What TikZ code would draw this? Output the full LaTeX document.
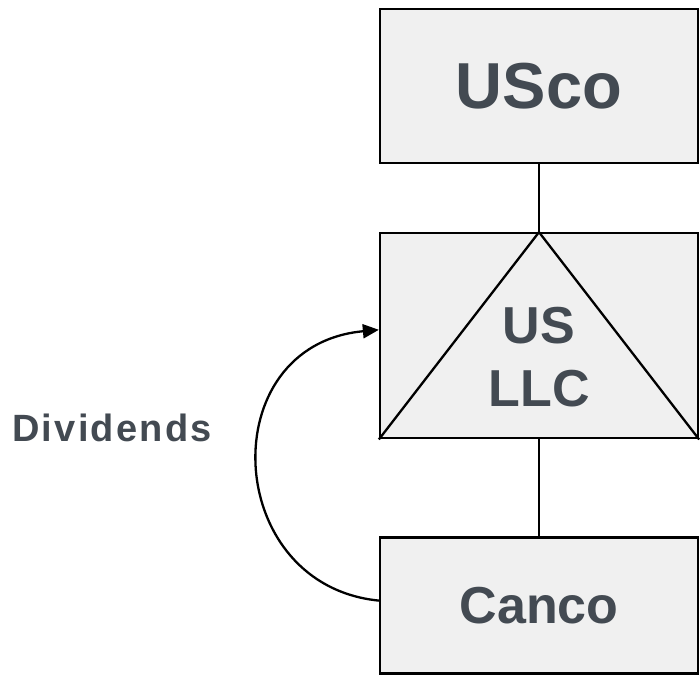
\documentclass[tikz,border=0pt]{standalone}
\usepackage{fontspec}
\setmainfont{Liberation Sans}
\newfontfamily\widefont[LetterSpace=6]{Liberation Sans}
\usetikzlibrary{arrows.meta, positioning}

\definecolor{boxfill}{HTML}{F0F0F0}
\definecolor{textgray}{HTML}{434A52}

\tikzset{
    entity/.style={draw, line width=2.3pt, fill=boxfill, minimum width=318pt,
        inner sep=0pt, text=textgray, font=\bfseries},
    link/.style={draw, line width=2.3pt},
    flow/.style={line width=2.3pt, -{Triangle[length=16pt, width=14pt]}}
}

\begin{document}
\begin{tikzpicture}[x=1pt, y=-1pt]
    \useasboundingbox (0,0) rectangle (700,674);

    % ownership chain
    \node (usco) [entity, minimum height=154pt, font=\bfseries\fontsize{65}{78}\selectfont] at (539,86) {USco};
    \node (llc) [entity, minimum height=205pt, below=68pt of usco] {};
    \node (canco) [entity, minimum height=136pt, below=97pt of llc, font=\bfseries\fontsize{52}{62}\selectfont] {Canco};

    % hybrid marker inside the LLC box
    \draw [line width=2.3pt] (llc.south west) -- (llc.north) -- (llc.south east);
    \node (llctext) [text=textgray, align=center, font=\bfseries\fontsize{52}{63}\selectfont]
        at ([yshift=-21pt]llc.center) {US\\LLC};

    \path [link] (usco) -- (llc);
    \path [link] (llc) -- (canco);

    % dividends paid up to the LLC
    \coordinate (c1) at (222,585);
    \coordinate (c2) at (212,345);
    \draw [flow] ([yshift=5pt]canco.west) .. controls (c1) and (c2) .. ([yshift=6pt]llc.west);
    \node (div) [text=textgray, font=\widefont\bfseries\fontsize{38}{45}\selectfont] at (112,428) {Dividends};
\end{tikzpicture}
\end{document}
